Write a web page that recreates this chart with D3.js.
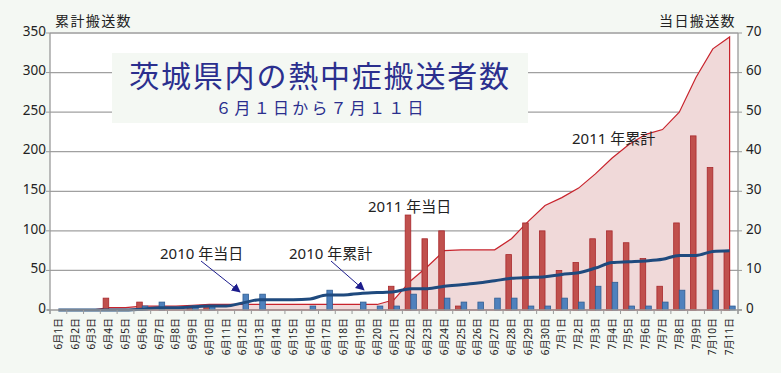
<!DOCTYPE html>
<html>
<head>
<meta charset="utf-8">
<script src="https://cdn.jsdelivr.net/npm/d3@7"></script>
<style>
  body { margin: 0; background: #f4f8f3; }
  svg { display: block; font-family: "Noto Sans", "Noto Sans CJK JP", sans-serif; }
</style>
</head>
<body>
<script>
const days = [
  '6月1日','6月2日','6月3日','6月4日','6月5日','6月6日','6月7日','6月8日','6月9日','6月10日',
  '6月11日','6月12日','6月13日','6月14日','6月15日','6月16日','6月17日','6月18日','6月19日','6月20日',
  '6月21日','6月22日','6月23日','6月24日','6月25日','6月26日','6月27日','6月28日','6月29日','6月30日',
  '7月1日','7月2日','7月3日','7月4日','7月5日','7月6日','7月7日','7月8日','7月9日','7月10日','7月11日'
]
// daily counts (right axis)
const daily2011 = [0,0,0,3,0,2,0,0,1,1,0,0,0,0,0,0,0,0,0,0,6,24,18,20,1,0,0,14,22,20,10,12,18,20,17,13,6,22,44,36,15]
const daily2010 = [0,0,0,0,0,1,2,0,1,1,0,4,4,0,0,1,5,0,2,1,1,4,0,3,2,2,3,3,1,1,3,2,6,7,1,1,2,5,0,5,1]
// running totals (left axis)
const cum2011 = [0,0,0,3,3,5,5,5,6,7,7,7,7,7,7,7,7,7,7,7,13,37,55,75,76,76,76,90,112,132,142,154,172,192,209,222,228,250,294,330,345]
const cum2010 = [0,0,0,0,0,1,3,3,4,5,5,9,13,13,13,14,19,19,21,22,23,27,27,30,32,34,37,40,41,42,45,47,53,60,61,62,64,69,69,74,75]

const leftTicks = [0,50,100,150,200,250,300,350]
const rightTicks = [0,10,20,30,40,50,60,70]

const w = 781
const h = 373
const plotLeft = 50
const plotRight = 738
const plotTop = 33
const plotBottom = 310

const svg = d3.select('body').append('svg')
  .attr('width', w)
  .attr('height', h)

const x = d3.scaleBand().domain(days).range([plotLeft, plotRight])
const xSub = d3.scaleBand().domain(['2011', '2010'])
  .range([0, x.bandwidth()]).paddingOuter(0.5)
const yL = d3.scaleLinear().domain([0, 350]).range([plotBottom, plotTop])
const yR = d3.scaleLinear().domain([0, 70]).range([plotBottom, plotTop])
const cx = (d) => x(d) + x.bandwidth() / 2

// plot background
svg.append('rect')
  .attr('x', plotLeft).attr('y', plotTop)
  .attr('width', plotRight - plotLeft).attr('height', plotBottom - plotTop)
  .attr('fill', '#fff')

// grid
svg.append('g').selectAll('line')
  .data(leftTicks.slice(1))
  .enter().append('line')
  .attr('x1', plotLeft).attr('x2', plotRight)
  .attr('y1', (d) => yL(d)).attr('y2', (d) => yL(d))
  .attr('stroke', (d) => d === 350 ? '#b4b4b4' : '#a0a0a0')
  .attr('stroke-width', (d) => d === 350 ? 2 : 1.3)

// 2011 cumulative area
const area = d3.area()
  .x((d, i) => cx(days[i]))
  .y0(plotBottom)
  .y1((d) => yL(d))
svg.append('path')
  .datum(cum2011)
  .attr('d', area)
  .attr('fill', '#f0d9d9')
  .attr('stroke', '#c8232c')
  .attr('stroke-width', 1.2)

// bars
const bars = svg.append('g')
bars.selectAll('.b11')
  .data(daily2011)
  .enter().append('rect')
  .attr('class', 'b11')
  .attr('x', (d, i) => x(days[i]) + xSub('2011'))
  .attr('y', (d) => yR(d))
  .attr('width', xSub.bandwidth())
  .attr('height', (d) => plotBottom - yR(d))
  .attr('fill', (d) => d > 0 ? '#c0504d' : 'none')
  .attr('stroke', (d) => d > 0 ? '#a8282c' : 'none')
  .attr('stroke-width', 0.8)

bars.selectAll('.b10')
  .data(daily2010)
  .enter().append('rect')
  .attr('class', 'b10')
  .attr('x', (d, i) => x(days[i]) + xSub('2010'))
  .attr('y', (d) => yR(d))
  .attr('width', xSub.bandwidth())
  .attr('height', (d) => plotBottom - yR(d))
  .attr('fill', (d) => d > 0 ? '#4f81bd' : 'none')
  .attr('stroke', (d) => d > 0 ? '#2f5d92' : 'none')
  .attr('stroke-width', 0.8)

// 2010 cumulative line
const line = d3.line()
  .x((d, i) => cx(days[i]))
  .y((d) => yL(d))
  .curve(d3.curveMonotoneX)
svg.append('path')
  .datum(cum2010)
  .attr('d', line)
  .attr('fill', 'none')
  .attr('stroke', '#1f4a7e')
  .attr('stroke-width', 3)

// axes
const axisColor = '#9a9a9a'
svg.append('line')
  .attr('x1', plotLeft).attr('x2', plotLeft).attr('y1', plotTop).attr('y2', plotBottom + 4)
  .attr('stroke', axisColor).attr('stroke-width', 1.3)
svg.append('line')
  .attr('x1', plotRight).attr('x2', plotRight).attr('y1', plotTop).attr('y2', plotBottom + 4)
  .attr('stroke', axisColor).attr('stroke-width', 1.3)
svg.append('line')
  .attr('x1', plotLeft - 3).attr('x2', plotRight + 4).attr('y1', plotBottom).attr('y2', plotBottom)
  .attr('stroke', axisColor).attr('stroke-width', 1.3)

const lAxis = svg.append('g')
lAxis.selectAll('line')
  .data(leftTicks)
  .enter().append('line')
  .attr('x1', plotLeft - 4).attr('x2', plotLeft)
  .attr('y1', (d) => yL(d)).attr('y2', (d) => yL(d))
  .attr('stroke', axisColor)
lAxis.selectAll('text')
  .data(leftTicks)
  .enter().append('text')
  .attr('x', plotLeft - 4)
  .attr('y', (d) => yL(d))
  .attr('dy', '0.2em')
  .attr('text-anchor', 'end')
  .attr('font-size', 13.5)
  .attr('fill', '#222')
  .text((d) => d)

const rAxis = svg.append('g')
rAxis.selectAll('line')
  .data(rightTicks)
  .enter().append('line')
  .attr('x1', plotRight).attr('x2', plotRight + 4)
  .attr('y1', (d) => yR(d)).attr('y2', (d) => yR(d))
  .attr('stroke', axisColor)
rAxis.selectAll('text')
  .data(rightTicks)
  .enter().append('text')
  .attr('x', plotRight + 8)
  .attr('y', (d) => yR(d))
  .attr('dy', '0.2em')
  .attr('font-size', 13.5)
  .attr('fill', '#222')
  .text((d) => d)

// x ticks between categories
svg.append('g').selectAll('line')
  .data(days.concat(['end']))
  .enter().append('line')
  .attr('x1', (d, i) => plotLeft + i * x.step())
  .attr('x2', (d, i) => plotLeft + i * x.step())
  .attr('y1', plotBottom).attr('y2', plotBottom + 4)
  .attr('stroke', axisColor)

svg.append('g').selectAll('text')
  .data(days)
  .enter().append('text')
  .attr('transform', (d) => `translate(${cx(d)},${plotBottom + 8})rotate(-90)`)
  .attr('text-anchor', 'end')
  .attr('dy', '0.35em')
  .attr('font-size', 10)
  .attr('fill', '#222')
  .text((d) => d)

// axis titles
svg.append('text')
  .attr('x', 55).attr('y', 26)
  .attr('font-size', 14)
  .attr('letter-spacing', 1.4)
  .attr('fill', '#222')
  .text('累計搬送数')
svg.append('text')
  .attr('x', 736).attr('y', 26)
  .attr('text-anchor', 'end')
  .attr('font-size', 14)
  .attr('letter-spacing', 1.4)
  .attr('fill', '#222')
  .text('当日搬送数')

// title box
svg.append('rect')
  .attr('x', 112).attr('y', 53)
  .attr('width', 416).attr('height', 70)
  .attr('fill', '#f4f8f3')
svg.append('text')
  .attr('x', 320).attr('y', 87)
  .attr('text-anchor', 'middle')
  .attr('font-size', 30)
  .attr('letter-spacing', 1.8)
  .attr('fill', '#2b2f8e')
  .text('茨城県内の熱中症搬送者数')
svg.append('text')
  .attr('x', 321).attr('y', 114)
  .attr('text-anchor', 'middle')
  .attr('font-size', 16)
  .attr('letter-spacing', 3.2)
  .attr('fill', '#2b2f8e')
  .text('６月１日から７月１１日')

// annotations
svg.append('defs').append('marker')
  .attr('id', 'arr')
  .attr('viewBox', '0 0 10 10')
  .attr('refX', 9).attr('refY', 5)
  .attr('markerWidth', 9).attr('markerHeight', 9)
  .attr('orient', 'auto')
  .append('path')
  .attr('d', 'M0,0L10,5L0,10z')
  .attr('fill', '#1c1c8c')

const notes = [
  { text: '2010 年当日', x: 160, y: 259, arrow: [201, 261, 240, 292] },
  { text: '2010 年累計', x: 289, y: 259, arrow: [331, 261, 364, 290] },
  { text: '2011 年当日', x: 368, y: 212 },
  { text: '2011 年累計', x: 572, y: 144 }
]
svg.append('g').selectAll('text')
  .data(notes)
  .enter().append('text')
  .attr('x', (d) => d.x).attr('y', (d) => d.y)
  .attr('font-size', 15)
  .attr('fill', '#222')
  .text((d) => d.text)
svg.append('g').selectAll('line')
  .data(notes.filter((d) => d.arrow))
  .enter().append('line')
  .attr('x1', (d) => d.arrow[0]).attr('y1', (d) => d.arrow[1])
  .attr('x2', (d) => d.arrow[2]).attr('y2', (d) => d.arrow[3])
  .attr('stroke', '#1c1c8c')
  .attr('stroke-width', 1)
  .attr('marker-end', 'url(#arr)')
</script>
</body>
</html>
